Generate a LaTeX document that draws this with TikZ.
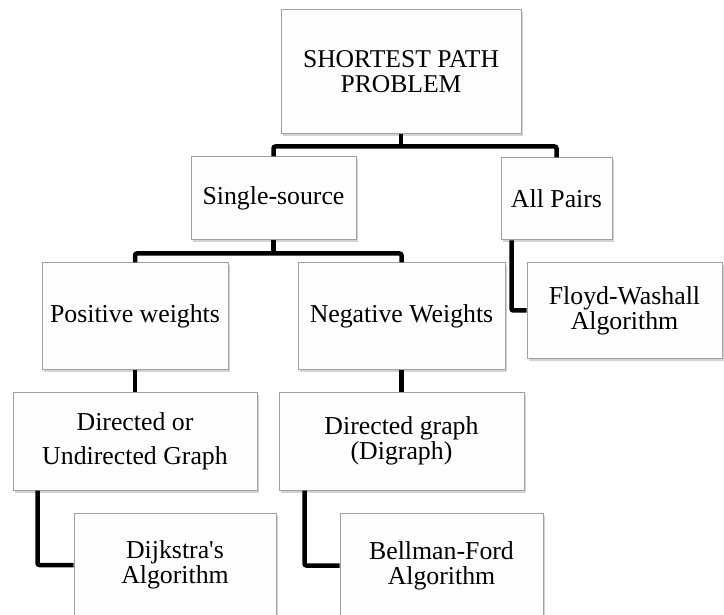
\documentclass[tikz,border=0pt]{standalone}
\usepackage{fontspec}
\setmainfont{Liberation Serif}[Ligatures=TeXOff]
\usetikzlibrary{shadows}
\definecolor{boxline}{HTML}{A0A0A0}
\definecolor{boxfill}{HTML}{FDFDFD}
\tikzset{
  box/.style={draw=boxline, line width=1pt, fill=boxfill, inner sep=0pt, align=center,
    font=\fontsize{25.8}{25}\selectfont,
    drop shadow={shadow xshift=2pt, shadow yshift=-2.5pt, opacity=0.35, fill=gray}},
  conn/.style={line width=4.5pt, draw=black, rounded corners=2pt, line cap=butt},
}
\begin{document}
\begin{tikzpicture}[x=1pt, y=-1pt]
\useasboundingbox (0,0) rectangle (724,615);
\clip (0,0) rectangle (724,615);
% nodes
\node[box, minimum width=240pt, minimum height=124pt, font=\fontsize{25.6}{25}\selectfont] (top) at (401,72) {SHORTEST PATH\\PROBLEM};
\node[box, minimum width=165pt, minimum height=83pt] (ss) at (273.5,198.5) {Single-source};
\node[box, minimum width=111pt, minimum height=82pt] (ap) at (556.5,199) {All Pairs};
\node[box, minimum width=186pt, minimum height=106pt] (pos) at (135,316) {Positive weights};
\node[box, minimum width=207pt, minimum height=106pt] (neg) at (401.5,316) {Negative Weights};
\node[box, minimum width=195pt, minimum height=95pt] (floyd) at (624.5,310.5) {Floyd-Washall\\Algorithm};
\node[box, minimum width=244pt, minimum height=98pt] (dir1) at (135,441) {Directed or\\[9pt]Undirected Graph};
\node[box, minimum width=245pt, minimum height=98pt] (dir2) at (401.5,441) {Directed graph\\(Digraph)};
\node[box, minimum width=202pt, minimum height=104pt] (dijk) at (175,565) {Dijkstra's\\Algorithm};
\node[box, minimum width=203pt, minimum height=104pt] (bell) at (441.5,565.5) {Bellman-Ford\\Algorithm};
% junctions
\coordinate (j1) at ([yshift=-12pt]top.south);
\coordinate (j2) at ([yshift=-13pt]ss.south);
% connectors
\draw[conn] (top.south) -- (j1);
\draw[conn] (ss.north) |- (j1) -| (ap.north);
\draw[conn] (ss.south) -- (j2);
\draw[conn] (pos.north) |- (j2) -| (neg.north);
\draw[conn] ([xshift=11pt]ap.south west) |- (floyd.west);
\draw[conn] (pos.south) -- (dir1.north);
\draw[conn] (neg.south) -- (dir2.north);
\draw[conn] ([xshift=25pt]dir1.south west) |- (dijk.west);
\draw[conn] ([xshift=26pt]dir2.south west) |- (bell.west);
\end{tikzpicture}
\end{document}
